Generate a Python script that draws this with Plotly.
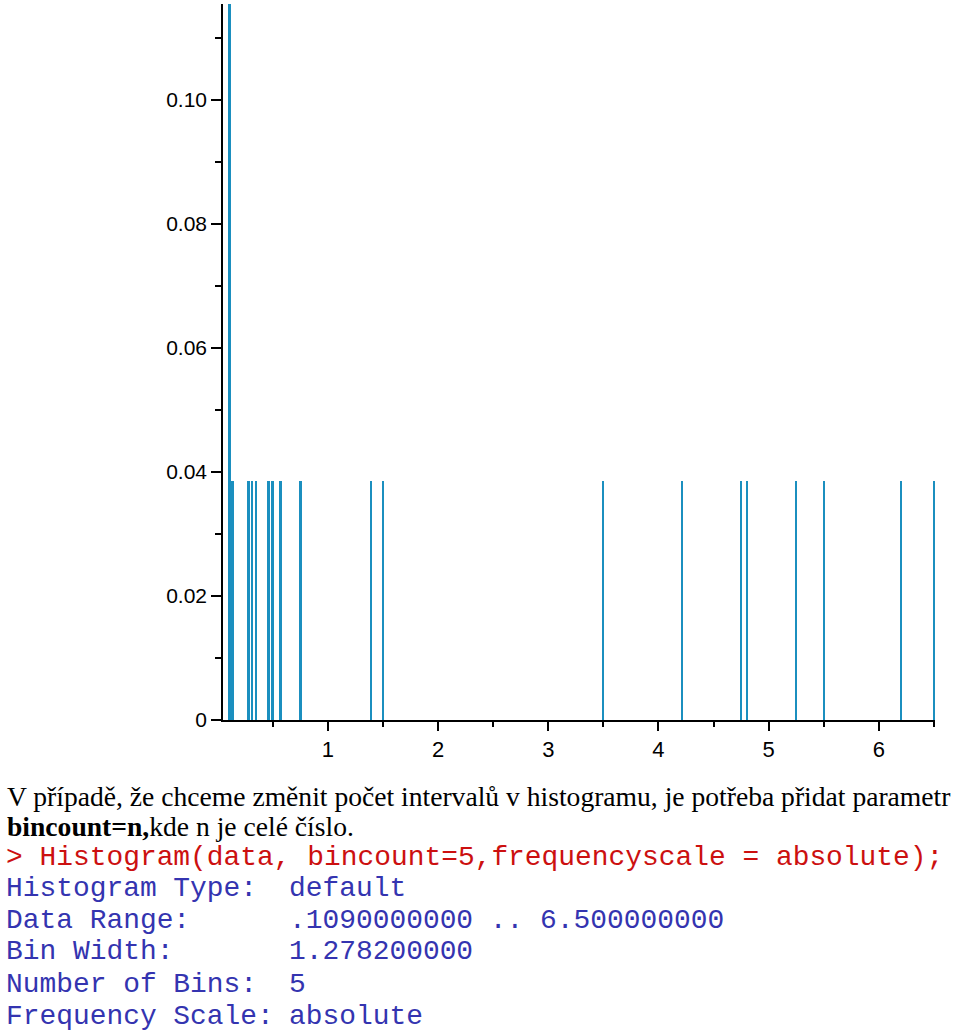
import plotly.graph_objects as go

# data values (spike positions) and heights
values = [0.109, 0.120, 0.130, 0.140, 0.281, 0.315, 0.351, 0.463, 0.499, 0.572,
          0.753, 1.397, 1.500, 3.500, 4.213, 4.752, 4.803, 5.254, 5.505, 6.203, 6.500]
heights = [0.1154, 0.0385, 0.0385, 0.0385, 0.0385, 0.0385, 0.0385, 0.0385, 0.0385, 0.0385,
           0.0385, 0.0385, 0.0385, 0.0385, 0.0385, 0.0385, 0.0385, 0.0385, 0.0385, 0.0385, 0.0385]

y_tickvals = [0, 0.02, 0.04, 0.06, 0.08, 0.10]
y_ticktext = ["0", "0.02", "0.04", "0.06", "0.08", "0.10"]
y_minorvals = [0.01, 0.03, 0.05, 0.07, 0.09, 0.11]

para_line1 = "V případě, že chceme změnit počet intervalů v histogramu, je potřeba přidat parametr"
para_line2 = "<b>bincount=n,</b>kde n je celé číslo."
command = "> Histogram(data, bincount=5,frequencyscale = absolute);"
out_labels = ["Histogram Type:", "Data Range:", "Bin Width:", "Number of Bins:", "Frequency Scale:"]
out_values = ["default", ".1090000000 .. 6.500000000", "1.278200000", "5", "absolute"]

W, H = 960, 1036
ML, MR, MT, MB = 223, 25, 4, 316
PW, PH = W - ML - MR, H - MT - MB

fig = go.Figure()
fig.add_trace(go.Bar(x=values, y=heights, width=0.015,
                     marker=dict(color="#1b8fbf", line=dict(width=0)),
                     showlegend=False))

axis_common = dict(showline=True, linecolor="black", linewidth=1.5, showgrid=False,
                   zeroline=False, ticks="outside", tickcolor="black", tickwidth=1.5)
fig.update_xaxes(range=[0.048, 6.51], dtick=1, tick0=0, ticklen=9,
                 tickfont=dict(family="Liberation Sans", size=22, color="black"),
                 minor=dict(dtick=0.5, tick0=0, ticks="outside", ticklen=5,
                            tickcolor="black", tickwidth=1.5),
                 **axis_common)
fig.update_yaxes(range=[0, 0.1154], tickmode="array", tickvals=y_tickvals, ticktext=y_ticktext,
                 ticklen=10, tickfont=dict(family="Liberation Sans", size=21, color="black"),
                 minor=dict(tickmode="array", tickvals=y_minorvals, ticks="outside", ticklen=6,
                            tickcolor="black", tickwidth=1.5),
                 **axis_common)


def px_x(px):
    return (px - ML) / PW


def px_y(py):
    return (H - MB - py) / PH


serif = dict(family="Liberation Serif", size=27.6, color="black")
mono_red = dict(family="Liberation Mono", size=27.9, color="#cc1010")
mono_blue = dict(family="Liberation Mono", size=27.9, color="#3434b0")

ann = []
ann.append(dict(text=para_line1, x=px_x(5), y=px_y(796), font=serif))
ann.append(dict(text=para_line2, x=px_x(5), y=px_y(826), font=serif))
ann.append(dict(text=command, x=px_x(4), y=px_y(857), font=mono_red))
rows_y = [889, 920, 951, 984, 1016]
for lab, val, yy in zip(out_labels, out_values, rows_y):
    ann.append(dict(text=lab, x=px_x(4), y=px_y(yy), font=mono_blue))
    ann.append(dict(text=val, x=px_x(287), y=px_y(yy), font=mono_blue))
for a in ann:
    a.update(xref="paper", yref="paper", xanchor="left", yanchor="middle",
             showarrow=False, align="left")

fig.update_layout(width=W, height=H, margin=dict(l=ML, r=MR, t=MT, b=MB),
                  paper_bgcolor="white", plot_bgcolor="white", bargap=0,
                  annotations=ann)

fig.write_html("out.html")
